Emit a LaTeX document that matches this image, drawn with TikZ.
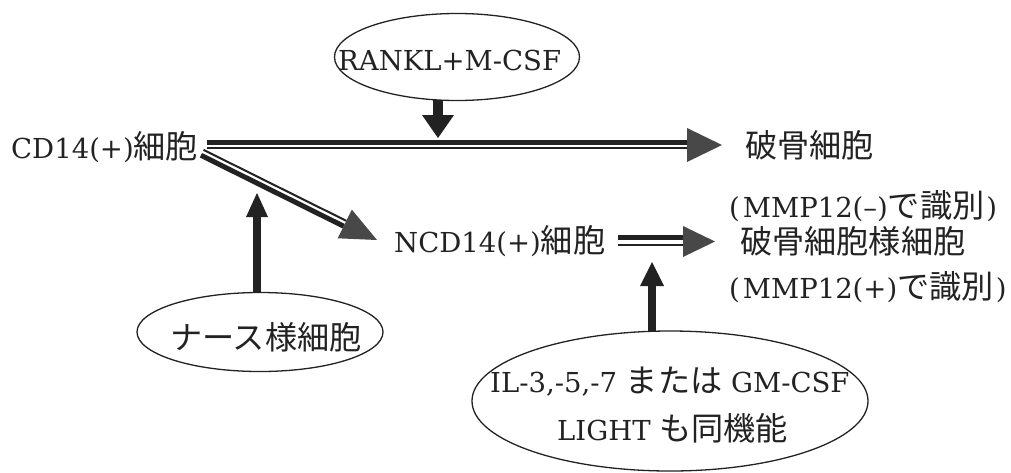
\documentclass[tikz,border=0pt]{standalone}
\usepackage{fontspec}
\setmainfont{DejaVu Serif}
\newfontfamily\jp[Scale=1.17]{Noto Sans CJK JP}
\newcommand\J[1]{{\jp #1}}
\newcommand\LP{(\hspace{3pt}}
\newcommand\RP{\hspace{2pt})}
\usetikzlibrary{calc,shapes.geometric}
\definecolor{ink}{HTML}{222222}
\definecolor{headc}{HTML}{484848}
\tikzset{
  txt/.style={inner sep=0pt, anchor=base west, font=\fontsize{27.5pt}{32pt}\selectfont, text=ink},
  oval/.style={draw=ink, line width=1.3pt, ellipse, inner sep=0pt},
}
% solid arrow: from, to, shaft width, head length, head half width
\newcommand\solidarrow[5]{%
  \coordinate (hb) at ($(#2)!#4!(#1)$);
  \draw[ink, line width=#3] (#1) -- (hb);
  \fill[ink] (#2) -- ($(hb)!#5!90:(#1)$) -- ($(hb)!#5!-90:(#1)$) -- cycle;
}
% double arrow: from, to, thick offset, thin offset, head length, head half width
\newcommand\dblarrow[6]{%
  \coordinate (hb) at ($(#2)!#5!(#1)$);
  \draw[ink, line width=5pt] ($(#1)!#3!90:(#2)$) -- ($(hb)!#3!-90:(#1)$);
  \draw[ink, line width=2pt] ($(#1)!#4!90:(#2)$) -- ($(hb)!#4!-90:(#1)$);
  \fill[headc] (#2) -- ($(hb)!#6!90:(#1)$) -- ($(hb)!#6!-90:(#1)$) -- cycle;
}
\begin{document}
\begin{tikzpicture}[x=1pt,y=-1pt]
\useasboundingbox (0,0) rectangle (1011,472);
% ellipses
\node[oval, minimum width=245pt, minimum height=87pt] (rk) at (457,57) {};
\node[oval, minimum width=246pt, minimum height=79pt] (ns) at (260,332) {};
\node[oval, minimum width=396pt, minimum height=140pt] (il) at (670,401) {};
% texts
\node[txt] (rkt) at (338,70) {RANKL+M-CSF};
\node[txt] (cd) at (11,158) {CD14(+)\J{細胞}};
\node[txt] (ncd) at (394,252) {NCD14(+)\J{細胞}};
\node[txt] (oc) at (745,157) {\J{破骨細胞}};
\node[txt] (oc2) at (729,217) {\LP MMP12(–)\J{で識別}\RP};
\node[txt] (ol) at (740,253) {\J{破骨細胞様細胞}};
\node[txt] (ol2) at (729,298) {\LP MMP12(+)\J{で識別}\RP};
\node[txt] (nst) at (170,349) {\J{ナース様細胞}};
\node[txt] (il1) at (490,392) {IL-3,-5,-7 \J{または} GM-CSF};
\node[txt] (il2) at (557,440) {LIGHT \J{も同機能}};
% connector end points
\coordinate (m1) at (207,145);
\coordinate (m2) at (722,145);
\coordinate (d1) at (202,153);
\coordinate (d2) at (377,240);
\coordinate (n1) at (618,241.5);
\coordinate (n2) at (715,241.5);
\coordinate (rkb) at (438,100);
\coordinate (rke) at (438,138);
\coordinate (nsb) at (257,293);
\coordinate (nse) at (257,193);
\coordinate (ilb) at (652,332);
\coordinate (ile) at (652,262);
% arrows
\dblarrow{m1}{m2}{2.5pt}{-3pt}{35pt}{17pt}
\dblarrow{d1}{d2}{-2.5pt}{3.5pt}{36pt}{16pt}
\dblarrow{n1}{n2}{4pt}{-3.5pt}{32pt}{15.5pt}
\solidarrow{rkb}{rke}{10pt}{23pt}{16pt}
\solidarrow{nsb}{nse}{8pt}{24pt}{11pt}
\solidarrow{ilb}{ile}{8pt}{24pt}{12pt}
\end{tikzpicture}
\end{document}
